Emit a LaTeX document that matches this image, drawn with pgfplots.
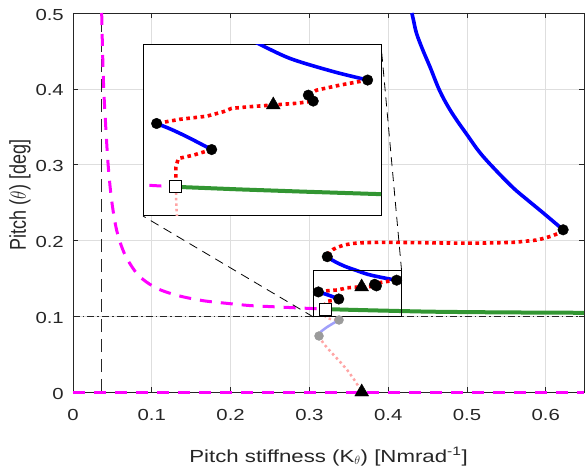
\documentclass[border=0pt]{standalone}
\usepackage{fontspec}
\setmainfont{Liberation Sans}[FakeStretch=1.27]
\newfontfamily\ylfont{Liberation Sans}
\usepackage{graphicx}
\usepackage{pgfplots}
\usepackage{pgfplotstable}
\pgfplotsset{compat=1.18}

\definecolor{axgray}{RGB}{38,38,38}
\definecolor{gridgray}{RGB}{222,222,222}
\definecolor{mmagenta}{RGB}{255,0,255}
\definecolor{mblue}{RGB}{0,0,255}
\definecolor{mred}{RGB}{255,0,0}
\definecolor{mgreen}{RGB}{50,150,50}
\definecolor{lpink}{RGB}{255,165,165}
\definecolor{lblue}{RGB}{160,160,250}
\definecolor{mgray}{RGB}{155,155,155}

% ---- branches of the pitch response ----
\pgfplotstableread{
x y
0.0364 0.500
0.0375 0.450
0.0390 0.400
0.0420 0.342
0.0448 0.297
0.0490 0.253
0.0555 0.213
0.0660 0.181
0.0830 0.154
0.1060 0.137
0.1340 0.127
0.1650 0.1205
0.1950 0.1170
0.2250 0.1140
0.2520 0.1126
0.2840 0.1110
0.3205 0.1094
}\magUpper

\pgfplotstableread{
x y
0.0000 0.0
0.6485 0.0
}\magLower

\pgfplotstableread{
x y
0.430 0.500
0.432 0.491
0.436 0.473
0.444 0.451
0.453 0.429
0.466 0.396
0.481 0.368
0.501 0.338
0.517 0.315
0.538 0.291
0.559 0.269
0.576 0.254
0.597 0.236
0.622 0.214
}\blueUpper

\pgfplotstableread{
x y
0.6220 0.2140
0.6150 0.2090
0.6095 0.2065
0.6000 0.2035
0.5880 0.2005
0.5700 0.1985
0.5590 0.1975
0.5200 0.1965
0.4800 0.1965
0.4400 0.1970
0.4000 0.1975
0.3700 0.1970
0.3520 0.1955
0.3400 0.1925
0.3300 0.1880
0.3255 0.1835
0.3227 0.1785
}\redUpper

\pgfplotstableread{
x y
0.3227 0.1785
0.3290 0.1740
0.3367 0.1697
0.3470 0.1650
0.3579 0.1610
0.3742 0.1552
0.3946 0.1505
0.4107 0.1475
}\blueMid

\pgfplotstableread{
x y
0.4107 0.1475
0.3977 0.1457
0.3867 0.1439
0.3828 0.1421
0.3851 0.1400
0.3773 0.1392
0.3663 0.1386
0.3554 0.1380
0.3467 0.1374
0.3428 0.1362
0.3350 0.1346
0.3224 0.1335
0.3114 0.1320
}\redMid

\pgfplotstableread{
x y
0.3114 0.1320
0.3180 0.1300
0.3256 0.1273
0.3320 0.1248
0.3373 0.1227
}\blueLow

\pgfplotstableread{
x y
0.3373 0.1227
0.3287 0.1207
0.3216 0.1195
0.3205 0.1165
0.3205 0.1094
}\redLow

\pgfplotstableread{
x y
0.3205 0.1094
0.3500 0.1085
0.3800 0.1077
0.4165 0.1068
0.4500 0.1060
0.5000 0.1054
0.5500 0.1050
0.6000 0.1047
0.6485 0.1045
}\greenBranch

\pgfplotstableread{
x y
0.3205 0.1094
0.3207 0.1020
0.3210 0.0990
0.3240 0.0970
0.3300 0.0955
0.3376 0.0950
}\pinkA

\pgfplotstableread{
x y
0.3376 0.0950
0.3300 0.0905
0.3220 0.0854
0.3150 0.0800
0.3122 0.0739
}\lblueSeg

\pgfplotstableread{
x y
0.3122 0.0739
0.3177 0.0642
0.3280 0.0520
0.3388 0.0400
0.3480 0.0290
0.3557 0.0180
0.3620 0.0080
0.3664 0.0000
}\pinkB

% ---- bifurcation points ----
\pgfplotstableread{
x y
0.6220 0.2140
0.3227 0.1785
0.4107 0.1475
0.3828 0.1421
0.3851 0.1400
0.3114 0.1320
0.3373 0.1227
}\blackDots

\pgfplotstableread{
x y
0.3663 0.1386
0.3664 0.0000
}\triPts

\pgfplotstableread{
x y
0.3205 0.1094
}\sqPts

\pgfplotstableread{
x y
0.3376 0.0950
0.3122 0.0739
}\grayDots

\pgfplotsset{
  magline/.style={mmagenta, line width=3pt, dash pattern=on 12pt off 9pt},
  blueline/.style={mblue, line width=3.6pt},
  redline/.style={mred, line width=3.6pt, dash pattern=on 3.6pt off 3.6pt},
  greenline/.style={mgreen, line width=4pt},
  pinkline/.style={lpink, line width=2.5pt, dash pattern=on 2.5pt off 3pt},
  lblueline/.style={lblue, line width=2.5pt},
}

\newcommand{\plotcurves}{%
  \addplot[magline, smooth, tension=0.5] table {\magUpper};
  \addplot[magline] table {\magLower};
  \addplot[greenline] table {\greenBranch};
  \addplot[pinkline] table {\pinkA};
  \addplot[lblueline] table {\lblueSeg};
  \addplot[pinkline] table {\pinkB};
  \addplot[blueline, smooth, tension=0.6] table {\blueUpper};
  \addplot[redline, smooth, tension=0.5] table {\redUpper};
  \addplot[blueline, smooth, tension=0.5] table {\blueMid};
  \addplot[redline] table {\redMid};
  \addplot[blueline, smooth, tension=0.5] table {\blueLow};
  \addplot[redline] table {\redLow};
  \addplot[only marks, mark=*, mark size=4.5pt, mgray, mark options={draw=none, fill=mgray}] table {\grayDots};
  \addplot[only marks, mark=*, mark size=5.3pt, black] table {\blackDots};
  \addplot[only marks, mark=triangle*, mark size=8pt, black] table {\triPts};
  \addplot[only marks, mark=square*, mark size=6pt, mark options={fill=white, draw=black, line width=1pt}] table {\sqPts};
}

\begin{document}
\begin{tikzpicture}
\begin{axis}[
  at={(0pt,0pt)}, anchor=south west,
  scale only axis, width=511pt, height=379pt,
  xmin=0, xmax=0.6485, ymin=0, ymax=0.5,
  clip=false,
  xtick={0,0.1,0.2,0.3,0.4,0.5,0.6},
  xticklabels={0,0.1,0.2,0.3,0.4,0.5,0.6},
  ytick={0,0.1,0.2,0.3,0.4,0.5},
  yticklabels={0,0.1,0.2,0.3,0.4,0.5},
  tick align=inside, major tick length=5pt,
  tick style={axgray, line width=0.6pt},
  grid=major, major grid style={gridgray, line width=0.6pt},
  axis line style={axgray, line width=0.7pt},
  xticklabel style={font=\fontsize{16}{18}\selectfont, text=axgray, anchor=base, inner sep=0pt, yshift=-28pt},
  yticklabel style={font=\fontsize{16}{18}\selectfont, text=axgray, anchor=east, inner sep=0pt, xshift=-9pt, yshift=-1.5pt},
  xlabel={\fontsize{17.5}{20}\selectfont Pitch stiffness (K$_{\theta}$) [Nmrad\textsuperscript{-1}]},
  ylabel={\scalebox{1}[1.27]{\ylfont\fontsize{18}{20}\selectfont Pitch ($\theta$) [deg]}},
  every axis x label/.style={at={(axis description cs:0.5,-0.1847)}, anchor=base, text=axgray},
  every axis y label/.style={at={(axis description cs:-0.104,0.52)}, anchor=center, rotate=90, text=axgray},
]
  % reference lines
  \addplot[black!85, line width=0.8pt, dash pattern=on 13pt off 7pt] coordinates {(0.0364,0) (0.0364,0.5)};
  \addplot[black!85, line width=0.8pt, dash pattern=on 7pt off 3pt on 1.5pt off 3pt] coordinates {(0,0.1) (0.6485,0.1)};
  \plotcurves
  % zoom window and its leader lines
  \addplot[black, line width=1pt] coordinates {(0.305,0.099) (0.417,0.099) (0.417,0.16) (0.305,0.16) (0.305,0.099)};
  \addplot[black, line width=0.8pt, dash pattern=on 9pt off 6pt] coordinates {(0.305,0.099) (0.0888,0.2322)};
  \addplot[black, line width=0.8pt, dash pattern=on 9pt off 6pt] coordinates {(0.417,0.16) (0.3909,0.4578)};
\end{axis}
% magnified view of the zoom window
\begin{axis}[
  at={(70pt,176pt)}, anchor=south west,
  scale only axis, width=238pt, height=171pt,
  xmin=0.305, xmax=0.417, ymin=0.099, ymax=0.16,
  xtick=\empty, ytick=\empty,
  axis background/.style={fill=white},
  axis line style={black, line width=1pt},
]
  \plotcurves
\end{axis}
\pgfresetboundingbox
\path[use as bounding box] (-73pt,-77pt) rectangle (512pt,392pt);
\end{tikzpicture}
\end{document}
